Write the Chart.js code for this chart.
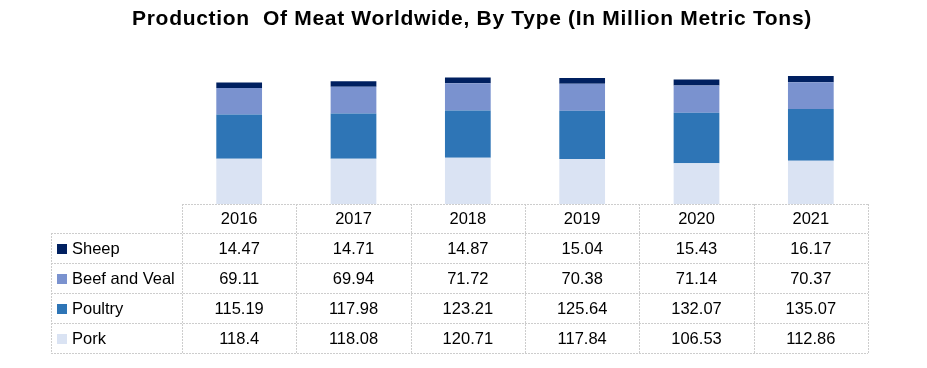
<!DOCTYPE html>
<html>
<head>
<meta charset="utf-8">
<script src="https://cdn.jsdelivr.net/npm/chart.js@4/dist/chart.umd.min.js"></script>
<style>
html,body{margin:0;padding:0;background:#fff;}
#wrap{width:927px;height:368px;position:relative;}
</style>
</head>
<body>
<div id="wrap"><canvas id="c" width="927" height="368"></canvas></div>
<script>
const years = ["2016","2017","2018","2019","2020","2021"];
const seriesNames = ["Sheep","Beef and Veal","Poultry","Pork"];
const sheep = [14.47,14.71,14.87,15.04,15.43,16.17];
const beefVeal = [69.11,69.94,71.72,70.38,71.14,70.37];
const poultry = [115.19,117.98,123.21,125.64,132.07,135.07];
const pork = [118.4,118.08,120.71,117.84,106.53,112.86];
const titleText = 'Production  Of Meat Worldwide, By Type (In Million Metric Tons)';
const colors = {"Sheep":"#002060","Beef and Veal":"#7A92CF","Poultry":"#2E75B6","Pork":"#DAE3F3"};

// stacking order bottom -> top
const stackOrder = [["Pork",pork],["Poultry",poultry],["Beef and Veal",beefVeal],["Sheep",sheep]];
const datasets = stackOrder.map(([name,vals]) => ({
  label:name, data:vals, backgroundColor:colors[name], borderWidth:0,
  barPercentage:0.4, categoryPercentage:1.0
}));
const valuesByName = {"Sheep":sheep,"Beef and Veal":beefVeal,"Poultry":poultry,"Pork":pork};
const tableRows = seriesNames.map(n => [n, valuesByName[n]]);

const FONT = "'Liberation Sans', Arial, sans-serif";
const ROW_H = 30, HEADER_H = 29, LEGEND_LEFT = 51;

const tablePlugin = {
  id:'dataTable',
  afterDraw(chart){
    const ctx = chart.ctx, x = chart.scales.x, area = chart.chartArea;
    const n = years.length;
    const colW = (area.right-area.left)/n;
    const top = area.bottom;
    const headerBottom = top + HEADER_H;
    const bottom = headerBottom + ROW_H*tableRows.length;
    ctx.save();
    // title
    ctx.fillStyle = '#000';
    ctx.font = 'bold 21px ' + FONT;
    ctx.textAlign = 'center';
    ctx.textBaseline = 'middle';
    try { ctx.letterSpacing = '0.7px'; } catch(e) {}
    ctx.fillText(titleText, 472, 19);
    try { ctx.letterSpacing = '0px'; } catch(e) {}
    // grid
    ctx.strokeStyle = '#cdcdcd';
    ctx.lineWidth = 1;
    ctx.setLineDash([2,1]);
    const hl = (x1,x2,y)=>{ctx.beginPath();ctx.moveTo(x1,Math.round(y)+0.5);ctx.lineTo(x2,Math.round(y)+0.5);ctx.stroke();};
    const vl = (xx,y1,y2)=>{ctx.beginPath();ctx.moveTo(Math.round(xx)+0.5,y1);ctx.lineTo(Math.round(xx)+0.5,y2);ctx.stroke();};
    hl(area.left, area.right, top);
    for(let r=0;r<=tableRows.length;r++) hl(LEGEND_LEFT, area.right, headerBottom + r*ROW_H);
    vl(LEGEND_LEFT, headerBottom, bottom);
    for(let i=0;i<=n;i++) vl(area.left + i*colW, top, bottom);
    ctx.setLineDash([]);
    ctx.fillStyle = '#000';
    ctx.font = '16.5px ' + FONT;
    ctx.textAlign = 'center';
    years.forEach((y,i)=>ctx.fillText(y, x.getPixelForValue(i), top + HEADER_H/2 + 1));
    tableRows.forEach(([name,vals],r)=>{
      const cy = headerBottom + r*ROW_H + ROW_H/2 + 1;
      ctx.fillStyle = colors[name];
      ctx.fillRect(LEGEND_LEFT+6, cy-5, 10, 10);
      ctx.fillStyle = '#000';
      ctx.textAlign = 'left';
      ctx.fillText(name, LEGEND_LEFT+21, cy);
      ctx.textAlign = 'center';
      vals.forEach((v,i)=>ctx.fillText(String(v), x.getPixelForValue(i), cy));
    });
    ctx.restore();
  }
};

new Chart(document.getElementById('c'), {
  type:'bar',
  data:{labels:years, datasets},
  options:{
    responsive:false, animation:false,
    layout:{padding:{top:70,left:182,right:59,bottom:164}},
    plugins:{
      legend:{display:false},
      tooltip:{enabled:false},
      title:{display:false}
    },
    scales:{
      x:{stacked:true, display:false, offset:true},
      y:{stacked:true, display:false, min:0, max:350}
    }
  },
  plugins:[tablePlugin]
});
</script>
</body>
</html>
